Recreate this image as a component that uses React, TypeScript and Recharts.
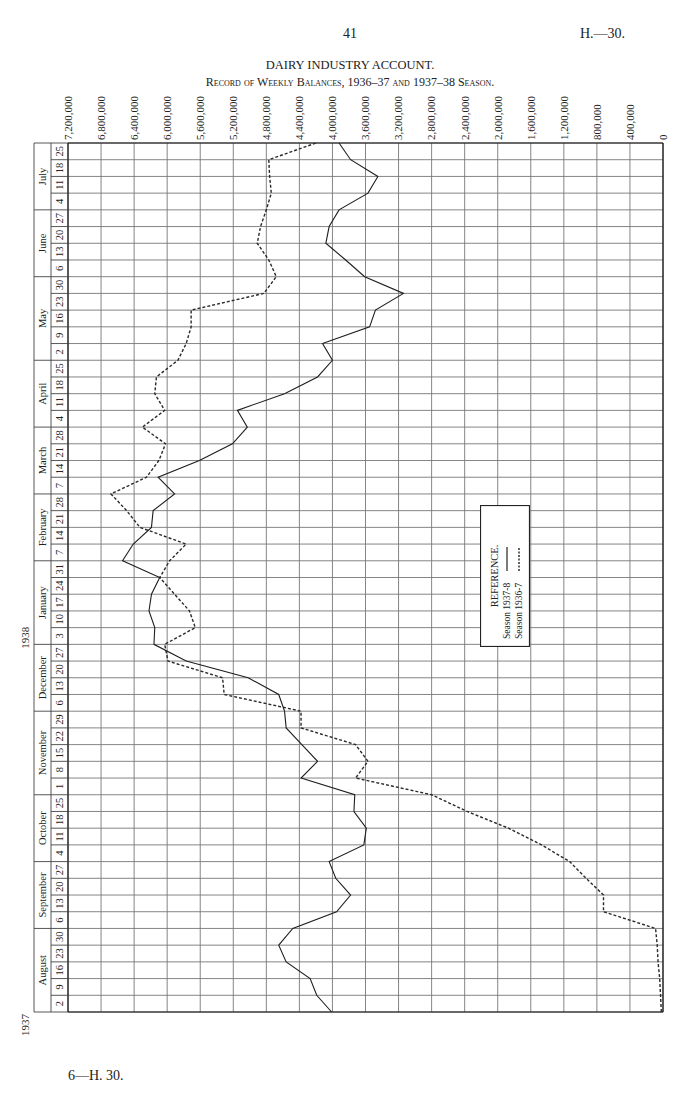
import React from 'react';
import { LineChart, Line, XAxis, YAxis, CartesianGrid, ReferenceLine, Legend } from 'recharts';

const W = 700;
const H = 1109;
const PLOT_LEFT = 68;
const PLOT_RIGHT = 663;
const PLOT_TOP = 143;
const PLOT_BOTTOM = 1012;
const WEEK_COL = 17;
const MONTH_COL = 17;
const FONT = '"Liberation Serif", "DejaVu Serif", serif';

// week labels, bottom (Aug 2 1937) to top (July 25 1938)
const weekLabels = ['2','9','16','23','30','6','13','20','27','4','11','18','25','1','8','15','22','29','6','13','20','27','3','10','17','24','31','7','14','21','28','7','14','21','28','4','11','18','25','2','9','16','23','30','6','13','20','27','4','11','18','25'];
const months = ['August','September','October','November','December','January','February','March','April','May','June','July'];
const monthWeeks = [5,4,4,5,4,5,4,4,4,5,4,4];
const yearLabels = ['1937','1938'];
const yearStartWeek = [0,22];

const valueTicks = [0,400000,800000,1200000,1600000,2000000,2400000,2800000,3200000,3600000,4000000,4400000,4800000,5200000,5600000,6000000,6400000,6800000,7200000];

// balances at each weekly line, bottom to top
const season1937_8 = [4010000,4190000,4270000,4560000,4650000,4480000,3950000,3780000,3960000,4040000,3620000,3590000,3740000,3730000,4380000,4180000,4370000,4560000,4580000,4650000,5020000,5770000,6160000,6150000,6220000,6190000,6090000,6540000,6410000,6190000,6170000,5910000,6110000,5610000,5210000,5030000,5150000,4580000,4180000,4000000,4120000,3550000,3480000,3140000,3610000,3840000,4080000,4040000,3920000,3570000,3450000,3780000,3920000];
const season1936_7 = [20000,30000,40000,60000,70000,90000,720000,720000,930000,1130000,1470000,1870000,2370000,2800000,3720000,3570000,3720000,4380000,4380000,5310000,5330000,5990000,6030000,5660000,5730000,5910000,6090000,5970000,5770000,6330000,6490000,6680000,6250000,6100000,6020000,6300000,6030000,6150000,6130000,5870000,5770000,5710000,5710000,4830000,4680000,4770000,4910000,4870000,4800000,4740000,4760000,4770000,4200000];

const rows = season1937_8.map((v, k) => ({ k, s378: v, s367: season1936_7[k] }));
const lineTicks = rows.map(r => r.k);

const monthStart: number[] = [];
monthWeeks.reduce((acc, n) => { monthStart.push(acc); return acc + n; }, 0);
const monthBounds = [...monthStart, weekLabels.length];

const ROW = (PLOT_BOTTOM - PLOT_TOP) / weekLabels.length;

const fmt = (v: number) => v.toLocaleString('en-US');

function VText({ x, y, children, size = 10, anchor = 'middle', style = {} }: any) {
  return (
    <text x={x} y={y} dy="0.35em" textAnchor={anchor} transform={`rotate(-90 ${x} ${y})`}
      fontFamily={FONT} fontSize={size} fill="#222" style={style}>{children}</text>
  );
}

function TopTick(props: any) {
  const { x, y, payload } = props;
  return <VText x={x} y={y - 3} anchor="start" size={11}>{fmt(payload.value)}</VText>;
}
function BottomTick(props: any) {
  const { x, y, payload } = props;
  return <VText x={x} y={y + 3} anchor="end" size={11}>{fmt(payload.value)}</VText>;
}

function LeftTick(props: any) {
  const { x, y, payload } = props;
  const k = payload.value as number;
  const wkX = x - WEEK_COL / 2;
  const moX = x - WEEK_COL - MONTH_COL / 2;
  const isBound = monthBounds.includes(k);
  const mIdx = monthStart.indexOf(k);
  const yIdx = yearStartWeek.indexOf(k);
  return (
    <g>
      <line x1={x - WEEK_COL - (isBound ? MONTH_COL : 0)} x2={x} y1={y} y2={y} stroke="#444" strokeWidth={0.9} />
      {k === 0 && (
        <g>
          <line x1={x - WEEK_COL} x2={x - WEEK_COL} y1={y} y2={y - ROW * weekLabels.length} stroke="#444" strokeWidth={0.9} />
          <line x1={x - WEEK_COL - MONTH_COL} x2={x - WEEK_COL - MONTH_COL} y1={y} y2={y - ROW * weekLabels.length} stroke="#444" strokeWidth={0.9} />
        </g>
      )}
      {k < weekLabels.length && <VText x={wkX} y={y - ROW / 2} size={10.5}>{weekLabels[k]}</VText>}
      {mIdx >= 0 && <VText x={moX} y={y - (ROW * monthWeeks[mIdx]) / 2} size={10.5}>{months[mIdx]}</VText>}
      {yIdx >= 0 && <VText x={x - WEEK_COL - MONTH_COL - 9} y={yIdx === 0 ? y + 2 : y - ROW * 0.4} size={11} anchor={yIdx === 0 ? 'end' : 'middle'}>{yearLabels[yIdx]}</VText>}
    </g>
  );
}

function LegendBox() {
  const w = 50;
  const h = 142;
  return (
    <svg width={w} height={h} style={{ display: 'block' }}>
      <rect x={0.5} y={0.5} width={w - 1} height={h - 1} fill="#fff" stroke="#222" strokeWidth={1.2} />
      <VText x={14} y={h / 2} size={10.5}>REFERENCE.</VText>
      <VText x={27} y={h - 8} anchor="start" size={9.5}>Season 1937-8</VText>
      <line x1={27} x2={27} y1={h - 76} y2={h - 100} stroke="#222" strokeWidth={1.2} />
      <VText x={39} y={h - 8} anchor="start" size={9.5}>Season 1936-7</VText>
      <line x1={39} x2={39} y1={h - 76} y2={h - 100} stroke="#222" strokeWidth={1.4} strokeDasharray="2 1.5" />
    </svg>
  );
}

export default function App() {
  return (
    <div style={{ position: 'absolute', left: 0, top: 0, width: W, height: H, background: '#fff', fontFamily: FONT, color: '#222' }}>
      <div style={{ position: 'absolute', left: 0, width: W, top: 26, textAlign: 'center', fontSize: 14 }}>41</div>
      <div style={{ position: 'absolute', left: 580, top: 26, fontSize: 14 }}>H.—30.</div>
      <div style={{ position: 'absolute', left: 0, width: W, top: 58, textAlign: 'center', fontSize: 12.5 }}>DAIRY INDUSTRY ACCOUNT.</div>
      <div style={{ position: 'absolute', left: 0, width: W, top: 75, textAlign: 'center', fontSize: 12, fontVariant: 'small-caps' }}>Record of Weekly Balances, 1936–37 and 1937–38 Season.</div>
      <div style={{ position: 'absolute', left: 0, top: 0 }}>
        <LineChart layout="vertical" width={W} height={H} data={rows}
          margin={{ top: PLOT_TOP - 48, right: W - PLOT_RIGHT, bottom: H - PLOT_BOTTOM - 48, left: PLOT_LEFT - 52 }}>
          <CartesianGrid xAxisId="top" yAxisId="wk" stroke="#777" strokeWidth={0.9} />
          <XAxis xAxisId="top" orientation="top" type="number" domain={[0, 7200000]} reversed ticks={valueTicks} interval={0}
            height={48} tickSize={0} tickMargin={0} tickLine={false} axisLine={false} tick={<TopTick />} />
          <XAxis xAxisId="bottom" orientation="bottom" type="number" domain={[0, 7200000]} reversed ticks={valueTicks} interval={0}
            height={48} tickSize={0} tickMargin={0} tickLine={false} axisLine={false} tick={<BottomTick />} />
          <YAxis yAxisId="wk" type="number" dataKey="k" domain={[0, weekLabels.length]} ticks={lineTicks} interval={0} reversed
            width={52} tickSize={0} tickMargin={0} tickLine={false} axisLine={false} tick={<LeftTick />} />
          <ReferenceLine xAxisId="top" yAxisId="wk" x={0} stroke="#111" strokeWidth={1.2} />
          <ReferenceLine xAxisId="top" yAxisId="wk" x={7200000} stroke="#111" strokeWidth={1.2} />
          <ReferenceLine xAxisId="top" yAxisId="wk" y={0} stroke="#111" strokeWidth={1.2} />
          <ReferenceLine xAxisId="top" yAxisId="wk" y={weekLabels.length} stroke="#111" strokeWidth={1.2} />
          <Line xAxisId="top" yAxisId="wk" dataKey="s367" name="Season 1936-7" stroke="#2a2a2a" strokeWidth={1.4}
            strokeDasharray="3 2" dot={false} activeDot={false} isAnimationActive={false} />
          <Line xAxisId="top" yAxisId="wk" dataKey="s378" name="Season 1937-8" stroke="#1e1e1e" strokeWidth={1.1}
            dot={false} activeDot={false} isAnimationActive={false} />
          <Legend layout="horizontal" verticalAlign="middle" align="center" content={() => <LegendBox />}
            wrapperStyle={{ position: 'absolute', left: 480, top: 505, width: 50, height: 142 }} />
        </LineChart>
      </div>
      <div style={{ position: 'absolute', left: 68, top: 1068, fontSize: 14 }}>6—H. 30.</div>
    </div>
  );
}
